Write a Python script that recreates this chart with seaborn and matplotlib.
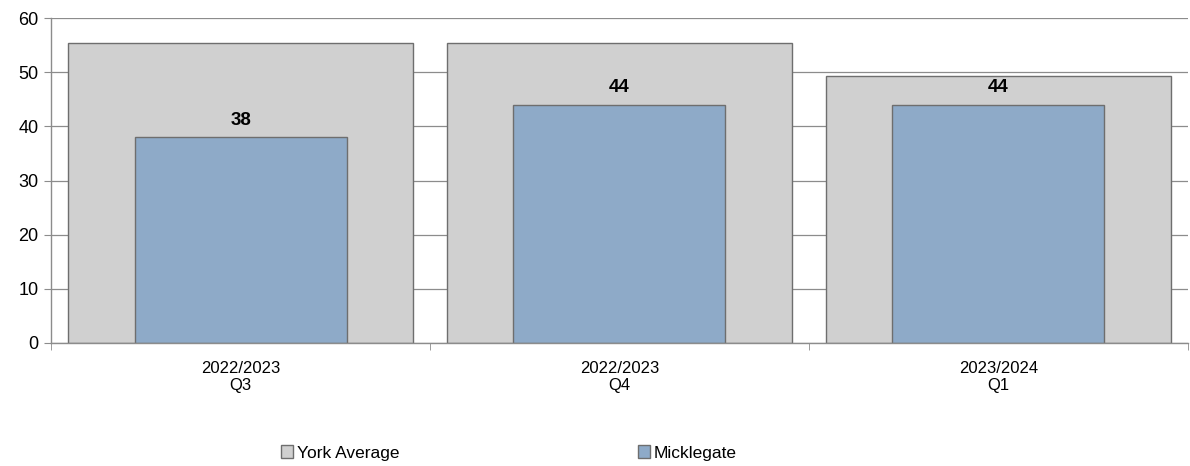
import matplotlib
matplotlib.use("Agg")
import matplotlib.pyplot as plt
from matplotlib.patches import Patch
import pandas as pd
import seaborn as sns

# chart data
quarters = ["2022/2023\nQ3", "2022/2023\nQ4", "2023/2024\nQ1"]
york_average = [55.4, 55.4, 49.3]
micklegate = [38, 44, 44]

york_color = "#d0d0d0"
mick_color = "#8eaac8"
edge_color = "#6e6e6e"

sns.set_style("white")
plt.rcParams["font.family"] = ["Liberation Sans", "DejaVu Sans"]
plt.rcParams["text.color"] = "black"
plt.rcParams["xtick.labelcolor"] = "black"
plt.rcParams["ytick.labelcolor"] = "black"

df = pd.DataFrame({"quarter": quarters, "York Average": york_average, "Micklegate": micklegate})

fig = plt.figure(figsize=(11.9, 4.66), dpi=100)
ax = fig.add_axes([0.043, 0.264, 0.955, 0.697])

sns.barplot(data=df, x="quarter", y="York Average", color=york_color, width=0.91,
            edgecolor=edge_color, linewidth=1.0, saturation=1, ax=ax)
sns.barplot(data=df, x="quarter", y="Micklegate", color=mick_color, width=0.56,
            edgecolor=edge_color, linewidth=1.0, saturation=1, ax=ax)

# labels on Micklegate bars only
ax.bar_label(ax.containers[1], labels=[str(v) for v in micklegate], padding=6,
             fontsize=13.5, fontweight="bold", color="black")

ax.set_ylim(0, 60)
ax.set_xlim(-0.5, 2.5)
ax.set_yticks(range(0, 61, 10))
ax.yaxis.grid(True, color="#8c8c8c", linewidth=0.9)
ax.set_axisbelow(True)

ax.set_xlabel("")
ax.set_ylabel("")
ax.tick_params(axis="y", labelsize=13, length=5, color="#8c8c8c", direction="out", left=True, pad=4)
ax.tick_params(axis="x", which="major", labelsize=12, length=0, pad=13)
ax.set_xticks([-0.5, 0.5, 1.5, 2.5], minor=True)
ax.tick_params(axis="x", which="minor", length=5, color="#8c8c8c", direction="out", bottom=True)

for side in ["top", "right"]:
    ax.spines[side].set_visible(False)
for side in ["left", "bottom"]:
    ax.spines[side].set_color("#8c8c8c")
    ax.spines[side].set_linewidth(1.0)

handles = [Patch(facecolor=york_color, edgecolor=edge_color, label="York Average"),
           Patch(facecolor=mick_color, edgecolor=edge_color, label="Micklegate")]
fig.legend(handles=handles, loc="center left", bbox_to_anchor=(0.223, 0.028), ncol=2,
           frameon=False, fontsize=12.5, handlelength=0.7, handleheight=0.7,
           handletextpad=0.2, columnspacing=13.75)

fig.savefig("out.png", dpi=100)
